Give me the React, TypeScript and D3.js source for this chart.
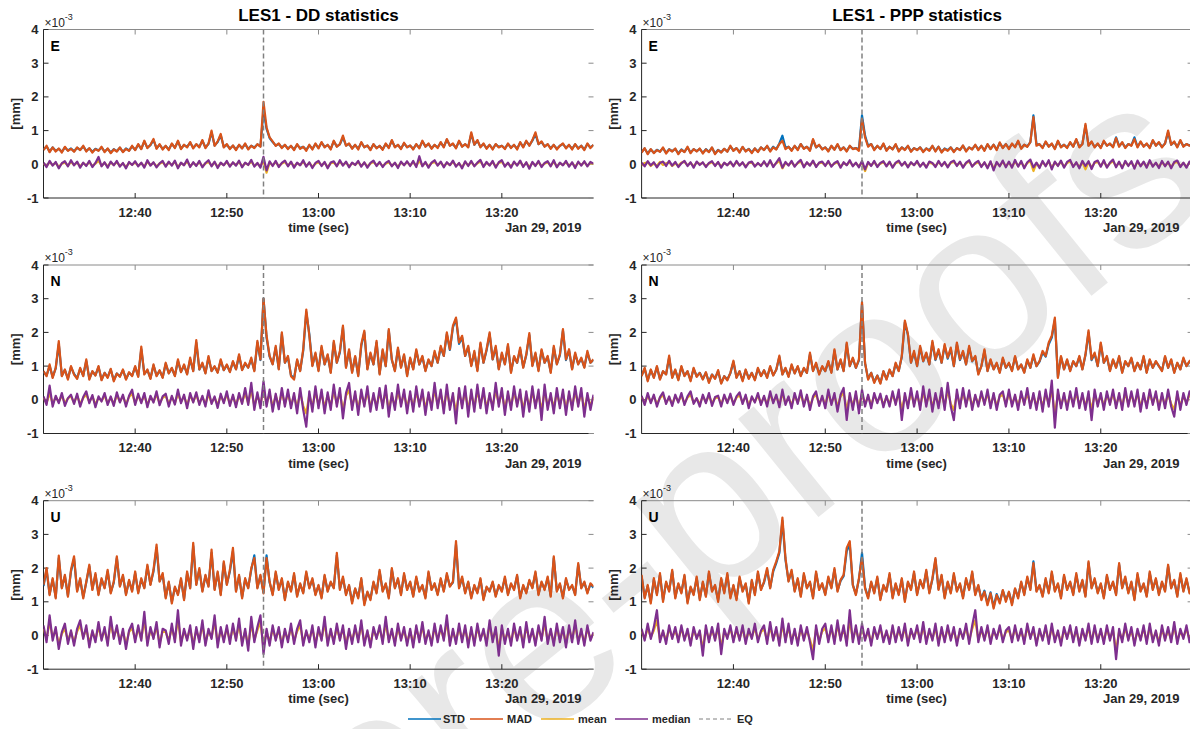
import React from "react";
import * as d3 from "d3";

// ---------------- DATA (values in units of 10^-3 mm) ----------------
// All series: one sample every 20 s from 12:30:00 to 13:30:00 (181 samples)

const titles = ["LES1 - DD statistics", "LES1 - PPP statistics"];
const components = ["E", "N", "U"];
const xTickLabels = ["12:40", "12:50", "13:00", "13:10", "13:20"];
const yTickValues = [-1, 0, 1, 2, 3, 4];
const dateLabel = "Jan 29, 2019";
const xAxisLabel = "time (sec)";
const yAxisLabel = "[mm]";
const eqTimeLabel = "12:54";
const legendLabels = ["STD", "MAD", "mean", "median", "EQ"];

// ---- DD, E ----
const ddE_STD = [
  .44,.53,.38,.5,.4,.46,.37,.5,.41,.47,
  .39,.49,.43,.53,.4,.47,.37,.46,.41,.5,
  .38,.46,.35,.45,.39,.49,.37,.47,.41,.53,
  .43,.58,.46,.68,.49,.57,.72,.48,.58,.46,
  .54,.44,.6,.5,.68,.47,.57,.52,.64,.49,
  .59,.52,.7,.5,.6,.95,.56,.66,.86,.52,
  .58,.47,.55,.44,.57,.48,.6,.46,.55,.5,
  .59,.53,1.6,1.05,.78,.66,.56,.6,.5,.57,
  .47,.54,.44,.58,.48,.52,.43,.56,.46,.6,
  .49,.64,.52,.57,.46,.68,.53,.59,.8,.56,
  .6,.48,.57,.46,.64,.51,.55,.44,.59,.49,
  .54,.45,.6,.5,.7,.52,.57,.47,.62,.51,
  .55,.46,.59,.49,.68,.53,.6,.48,.57,.5,
  .64,.52,.73,.56,.6,.49,.68,.53,.59,.52,
  .9,.58,.7,.52,.6,.48,.57,.46,.59,.52,
  .55,.47,.6,.5,.57,.46,.64,.52,.68,.56,
  .7,.9,.6,.66,.53,.59,.48,.57,.46,.55,
  .6,.49,.57,.46,.59,.48,.55,.44,.6,.5,
  .57
];
const ddE_MAD = [
  .42,.55,.36,.5,.38,.47,.35,.52,.4,.46,
  .37,.5,.42,.55,.38,.48,.35,.45,.4,.52,
  .36,.47,.33,.44,.38,.5,.36,.46,.4,.55,
  .42,.6,.45,.7,.48,.58,.75,.46,.6,.44,
  .55,.42,.62,.48,.7,.45,.58,.5,.66,.47,
  .6,.5,.72,.48,.62,1.0,.55,.68,.9,.5,
  .6,.45,.56,.42,.58,.47,.62,.44,.55,.48,
  .6,.52,1.85,1.1,.8,.68,.55,.62,.48,.58,
  .45,.55,.42,.6,.46,.52,.4,.58,.44,.62,
  .47,.66,.5,.58,.44,.7,.52,.6,.85,.55,
  .62,.46,.58,.44,.66,.5,.56,.42,.6,.47,
  .55,.43,.62,.48,.72,.5,.58,.45,.64,.5,
  .56,.44,.6,.47,.7,.52,.62,.46,.58,.48,
  .66,.5,.75,.55,.62,.47,.7,.52,.6,.5,
  .95,.58,.72,.5,.62,.46,.58,.44,.6,.5,
  .55,.45,.62,.48,.58,.44,.66,.5,.7,.55,
  .72,.95,.6,.68,.52,.6,.46,.58,.44,.55,
  .62,.47,.58,.44,.6,.46,.55,.42,.62,.48,
  .58
];
const ddE_mean = [
  .02,-.05,.06,-.02,.04,-.08,.02,.05,-.04,.07,
  -.02,.05,-.06,.03,-.03,.06,-.05,.02,.1,-.04,
  .04,-.06,.05,-.02,.06,-.04,.02,-.08,.04,-.01,
  .05,-.04,.03,-.06,.07,-.02,.04,-.06,.02,.06,
  -.04,.05,-.02,.07,-.08,.03,-.02,.08,-.05,.04,
  -.03,.06,-.06,.02,.07,-.04,.05,-.07,.03,-.02,
  .06,-.04,.04,-.02,.07,-.06,.03,-.01,.08,-.04,
  .02,-.06,.1,-.25,.05,-.03,.06,-.05,.02,.07,
  -.04,.05,-.06,.03,-.02,.07,-.04,.04,-.07,.02,
  .06,-.03,.04,-.08,.03,.05,-.04,.07,-.02,.05,
  -.06,.03,-.01,.06,-.04,.04,-.06,.02,.07,-.03,
  .04,-.05,.02,.06,-.04,.03,-.07,.05,-.02,.06,
  -.03,.06,-.05,.1,-.04,.04,-.06,.03,.07,-.02,
  .05,-.06,.04,-.02,.07,-.04,.02,-.08,.06,-.03,
  .06,-.04,.03,.08,-.05,.04,-.02,.06,-.06,.04,
  .07,-.04,.03,-.06,.05,-.02,.07,-.05,.04,-.08,
  .04,-.03,.06,-.05,.02,.06,-.04,.07,-.06,.03,
  -.02,.06,-.04,.04,-.07,.05,-.02,.06,-.04,.04,
  .01
];
const ddE_median = [
  .05,-.08,.1,-.04,.07,-.12,.03,.09,-.06,.12,
  -.03,.08,-.1,.05,-.05,.1,-.08,.04,.22,-.06,
  .06,-.1,.08,-.03,.1,-.07,.04,-.12,.07,-.02,
  .09,-.06,.05,-.1,.12,-.04,.06,-.09,.03,.1,
  -.07,.08,-.04,.11,-.12,.05,-.03,.14,-.08,.06,
  -.05,.1,-.09,.04,.12,-.06,.08,-.11,.05,-.03,
  .1,-.07,.06,-.04,.11,-.09,.05,-.02,.13,-.07,
  .04,-.1,.22,-.18,.09,-.05,.1,-.08,.04,.11,
  -.06,.08,-.1,.05,-.03,.12,-.07,.06,-.11,.04,
  .1,-.05,.07,-.12,.05,.09,-.06,.12,-.04,.08,
  -.09,.05,-.02,.1,-.07,.06,-.1,.04,.11,-.05,
  .07,-.08,.04,.1,-.06,.05,-.11,.08,-.03,.09,
  -.05,.1,-.08,.24,-.06,.07,-.1,.05,.12,-.04,
  .08,-.09,.06,-.03,.11,-.07,.04,-.12,.09,-.05,
  .1,-.06,.05,.13,-.08,.07,-.04,.1,-.1,.06,
  .12,-.07,.05,-.1,.08,-.04,.11,-.08,.06,-.13,
  .07,-.05,.1,-.08,.04,.09,-.06,.12,-.09,.05,
  -.03,.1,-.07,.06,-.11,.08,-.04,.09,-.06,.07,
  .02
];

// ---- PPP, E ----
const pppE_STD = [
  .36,.47,.32,.44,.34,.43,.38,.48,.34,.45,
  .39,.46,.32,.44,.37,.5,.35,.45,.39,.46,
  .34,.45,.37,.49,.32,.43,.36,.46,.38,.53,
  .41,.48,.37,.51,.39,.46,.35,.47,.38,.5,
  .43,.54,.4,.52,.45,.62,.85,.5,.52,.42,
  .54,.44,.6,.47,.52,.42,.72,.5,.57,.45,
  .5,.4,.54,.44,.58,.43,.5,.4,.54,.46,
  .48,.45,1.45,.85,.55,.6,.44,.54,.46,.6,
  .42,.52,.45,.58,.4,.5,.44,.54,.39,.48,
  .43,.5,.38,.47,.42,.54,.4,.52,.37,.47,
  .42,.5,.38,.48,.43,.55,.4,.5,.45,.57,
  .44,.54,.42,.59,.46,.58,.44,.63,.49,.6,
  .47,.6,.52,.68,.48,.58,.53,.66,1.45,.6,
  .59,.5,.66,.53,.6,.47,.68,.52,.58,.5,
  .64,.53,.73,.52,.6,1.15,.56,.66,.52,.6,
  .5,.68,.56,.6,.52,.8,.54,.64,.5,.6,
  .56,.8,.52,.66,.54,.6,.5,.7,.56,.64,
  .52,.62,.95,.58,.66,.52,.7,.54,.6,.56,
  .6
];
const pppE_MAD = [
  .35,.48,.3,.45,.33,.42,.37,.5,.32,.44,
  .38,.47,.3,.43,.36,.52,.33,.45,.38,.47,
  .32,.44,.36,.5,.3,.42,.35,.46,.37,.55,
  .4,.48,.35,.52,.38,.45,.33,.47,.36,.5,
  .42,.55,.38,.5,.44,.6,.7,.45,.52,.4,
  .55,.42,.6,.46,.52,.4,.75,.5,.58,.44,
  .5,.38,.55,.43,.6,.42,.5,.38,.55,.45,
  .48,.4,1.35,.8,.52,.6,.42,.55,.45,.62,
  .4,.52,.44,.6,.38,.5,.42,.55,.37,.48,
  .42,.5,.36,.47,.4,.55,.38,.52,.35,.46,
  .4,.5,.36,.48,.42,.56,.38,.5,.44,.58,
  .42,.55,.4,.6,.45,.58,.42,.65,.48,.6,
  .45,.62,.5,.7,.46,.58,.52,.66,1.4,.55,
  .6,.48,.68,.52,.62,.45,.7,.5,.58,.48,
  .66,.52,.75,.5,.6,1.2,.55,.68,.5,.62,
  .48,.7,.55,.62,.5,.78,.52,.66,.48,.6,
  .55,.75,.5,.68,.52,.62,.48,.72,.55,.66,
  .5,.62,1.0,.58,.68,.5,.72,.52,.6,.55,
  .6
];
const pppE_mean = [
  -.03,.04,.06,-.05,.02,-.04,.07,-.02,.03,.06,
  -.05,.02,-.04,.05,.07,-.03,.04,-.06,.05,.01,
  .04,-.05,.02,.06,-.03,.05,-.06,.03,-.02,.05,
  -.04,.06,-.02,.04,-.06,.03,.05,-.04,.02,-.03,
  .06,-.04,.08,-.05,.03,.1,-.12,.04,-.02,.06,
  -.05,.03,.08,-.06,.04,-.02,.07,-.05,.03,.05,
  -.03,.06,-.04,.02,.06,-.07,.04,-.02,.08,-.04,
  .03,-.06,.06,-.2,.04,-.03,.06,-.05,.02,.06,
  -.04,.05,-.07,.03,.07,-.02,.04,-.06,.04,-.02,
  .06,-.05,.03,-.07,.05,.02,-.05,.06,-.03,.04,
  -.06,.04,.07,-.03,.05,-.07,.03,.08,-.05,.02,
  .06,-.05,.04,-.08,.06,-.12,.04,-.04,.07,-.06,
  .05,-.07,.08,-.05,.06,-.08,.04,.09,-.2,.03,
  -.07,.06,-.04,.08,-.1,.05,-.03,.07,-.07,.04,
  .08,-.05,.04,-.08,.06,-.15,.06,-.09,.04,.07,
  -.05,.08,-.07,.03,.09,-.06,.05,-.08,.06,-.03,
  .06,-.09,.07,-.04,.05,-.07,.08,-.05,.03,-.07,
  .06,-.04,.05,-.08,.04,.07,-.05,.03,-.07,.05,
  .01
];
const pppE_median = [
  .05,-.06,.09,-.03,.06,-.09,.04,.08,-.05,.1,
  -.04,.07,-.08,.03,.1,-.05,.06,-.1,.08,-.02,
  .06,-.08,.04,.09,-.05,.07,-.1,.05,-.03,.08,
  -.06,.1,-.04,.06,-.09,.05,.08,-.07,.04,-.05,
  .09,-.06,.12,-.08,.05,.18,-.1,.07,-.04,.1,
  -.07,.05,.13,-.09,.06,-.04,.11,-.08,.05,.08,
  -.05,.1,-.07,.04,.09,-.1,.06,-.03,.12,-.06,
  .05,-.09,.1,-.15,.07,-.05,.1,-.08,.04,.09,
  -.06,.08,-.1,.05,.11,-.04,.07,-.09,.06,-.03,
  .1,-.07,.05,-.1,.08,.04,-.08,.1,-.05,.07,
  -.09,.06,.11,-.05,.08,-.1,.05,.12,-.07,.04,
  .1,-.08,.06,-.12,.09,-.18,.07,-.06,.11,-.09,
  .08,-.1,.13,-.07,.1,-.12,.06,.14,-.09,.05,
  -.11,.1,-.06,.12,-.15,.08,-.05,.11,-.1,.07,
  .13,-.08,.06,-.12,.1,-.05,.09,-.14,.07,.11,
  -.07,.12,-.1,.05,.14,-.09,.08,-.12,.1,-.05,
  .09,-.13,.11,-.06,.08,-.1,.12,-.07,.05,-.11,
  .1,-.06,.08,-.12,.07,.11,-.08,.05,-.1,.08,
  .02
];

// ---- DD, N ----
const ddN_STD = [
  .83,.72,1.0,.68,.93,1.65,.72,.88,.63,.97,
  .77,.64,.92,.72,1.15,.63,.84,.73,.97,.6,
  .8,.67,.9,.58,.78,.7,.88,.62,.8,.72,
  .97,.7,1.5,.77,.88,.64,1.02,.72,.86,.67,
  1.07,.79,.93,.72,1.15,.83,1.02,.77,1.2,.86,
  1.7,.9,1.07,.8,1.25,.86,.98,.82,1.16,.88,
  1.03,.84,1.12,.91,1.3,.89,1.07,.96,1.2,.87,
  1.7,1.18,3.0,1.85,1.28,1.06,1.55,.92,1.95,1.1,
  1.26,.73,.64,1.17,.87,1.45,2.6,1.95,1.02,1.36,
  .88,1.55,1.05,1.32,.82,1.7,1.1,1.4,2.15,.97,
  1.45,.83,1.27,.73,1.6,2.0,.92,1.36,1.05,1.7,
  .78,1.46,1.0,2.05,1.18,.87,1.5,.97,1.32,.73,
  1.22,.92,1.45,1.05,1.27,.87,1.18,1.0,1.4,1.1,
  1.55,1.3,1.95,1.48,2.15,2.4,1.66,1.85,1.3,1.56,
  1.02,1.4,.88,1.65,1.1,1.46,1.95,1.2,1.55,.92,
  1.36,1.06,1.6,.83,1.27,1.1,1.5,.97,1.32,1.92,
  1.02,1.36,.88,1.46,1.1,1.27,.83,1.55,1.06,1.32,
  2.05,1.18,1.46,.92,1.36,1.06,1.22,.97,1.4,1.1,
  1.18
];
const ddN_MAD = [
  .85,.7,1.05,.65,.95,1.74,.7,.9,.6,1.0,
  .75,.62,.95,.7,1.2,.6,.85,.72,1.0,.58,
  .8,.65,.92,.55,.78,.68,.9,.6,.82,.7,
  1.0,.68,1.58,.75,.9,.62,1.05,.7,.88,.65,
  1.1,.78,.95,.7,1.2,.82,1.05,.75,1.25,.85,
  1.77,.9,1.1,.78,1.3,.85,1.0,.8,1.2,.88,
  1.05,.82,1.15,.9,1.35,.88,1.1,.95,1.25,.85,
  1.75,1.2,3.0,1.9,1.3,1.05,1.6,.9,2.0,1.1,
  1.3,.7,.6,1.2,.85,1.5,2.68,1.9,1.0,1.4,
  .85,1.6,1.05,1.35,.8,1.75,1.1,1.45,2.2,.95,
  1.5,.8,1.3,.7,1.65,2.05,.9,1.4,1.05,1.75,
  .75,1.5,1.0,2.1,1.2,.85,1.55,.95,1.35,.7,
  1.25,.9,1.5,1.05,1.3,.85,1.2,1.0,1.45,1.1,
  1.6,1.3,2.0,1.5,2.2,2.44,1.7,1.9,1.3,1.6,
  1.0,1.45,.85,1.7,1.1,1.5,2.0,1.2,1.6,.9,
  1.4,1.05,1.65,.8,1.3,1.1,1.55,.95,1.35,1.98,
  1.0,1.4,.85,1.5,1.1,1.3,.8,1.6,1.05,1.35,
  2.1,1.2,1.5,.9,1.4,1.05,1.25,.95,1.45,1.1,
  1.2
];
const ddN_mean = [
  .06,-.1,.2,-.12,.08,-.06,.12,-.1,.04,.1,
  -.08,.12,-.12,.05,.15,-.06,.1,-.14,.06,-.03,
  .12,-.1,.06,-.12,.14,-.05,.1,-.12,.08,.18,
  -.1,.12,-.06,.12,-.14,.08,-.05,.15,-.1,.06,
  .12,-.12,.08,-.1,.18,-.06,.1,-.15,.12,-.05,
  .14,-.1,.08,-.12,.16,-.08,.06,-.15,.12,-.06,
  .15,-.12,.1,-.14,.12,-.08,.2,-.1,.3,-.18,
  .14,-.15,.3,-.12,.18,-.2,.12,-.16,.2,-.12,
  .18,-.15,.12,-.22,.2,-.18,-.4,.15,-.2,.22,
  -.15,.18,-.22,.14,-.18,.25,-.12,.2,-.3,.12,
  .28,-.18,.15,-.25,.18,-.12,.22,-.2,.12,-.18,
  .2,-.15,.24,-.28,.12,-.18,.25,-.12,.18,-.22,
  .15,-.2,.22,-.12,.18,-.25,.14,-.18,.28,-.15,
  .18,-.22,.25,-.18,.12,-.35,.2,-.15,.22,-.28,
  .18,-.2,.25,-.15,.2,-.22,.12,-.18,.28,-.12,
  .2,-.25,.15,-.18,.22,-.12,.18,-.28,.15,-.2,
  .22,-.15,.18,-.32,.25,-.18,.12,-.22,.2,-.15,
  .18,-.25,.15,-.18,.22,-.12,.2,-.28,.12,-.18,
  .08
];
const ddN_median = [
  .1,-.15,.42,-.2,.12,-.1,.2,-.18,.05,.15,
  -.12,.18,-.2,.08,.25,-.1,.14,-.22,.1,-.05,
  .2,-.15,.1,-.18,.22,-.08,.15,-.2,.12,.3,
  -.15,.18,-.1,.2,-.22,.12,-.08,.25,-.16,.1,
  .18,-.2,.12,-.14,.3,-.1,.15,-.25,.2,-.08,
  .22,-.15,.12,-.2,.28,-.12,.1,-.24,.18,-.1,
  .25,-.18,.15,-.22,.2,-.12,.35,-.15,.5,-.3,
  .22,-.25,.55,-.2,.3,-.35,.18,-.28,.35,-.2,
  .3,-.25,.2,-.4,.35,-.3,-.8,.25,-.35,.4,
  -.25,.3,-.4,.22,-.3,.45,-.2,.35,-.55,.2,
  .5,-.3,.25,-.45,.3,-.2,.4,-.35,.2,-.3,
  .35,-.25,.42,-.5,.2,-.3,.45,-.2,.3,-.4,
  .25,-.35,.4,-.2,.3,-.45,.22,-.3,.5,-.25,
  .3,-.4,.45,-.3,.2,-.7,.35,-.25,.4,-.5,
  .3,-.35,.45,-.25,.35,-.4,.2,-.3,.5,-.2,
  .35,-.45,.25,-.3,.4,-.2,.3,-.5,.25,-.35,
  .4,-.25,.3,-.6,.45,-.3,.2,-.4,.35,-.25,
  .3,-.45,.25,-.3,.4,-.2,.35,-.5,.2,-.3,
  .15
];

// ---- PPP, N ----
const pppN_STD = [
  .72,.92,.58,.88,.67,.97,.62,.84,.76,1.25,
  .67,.88,.6,.97,.72,.84,.58,.92,.7,.8,
  .62,.8,.53,.75,.64,.85,.5,.7,.6,.79,
  1.12,.67,.84,.58,.88,.64,.8,.6,.92,.71,
  .87,.67,.97,.73,.89,1.27,.76,.93,.7,1.02,
  .79,.98,.72,.93,.8,1.35,.86,1.07,.77,.98,
  .85,1.12,.82,1.45,.9,1.17,.86,1.65,1.0,1.22,
  .95,1.17,2.85,1.08,.62,.8,.53,.72,.5,.84,
  .62,.88,.71,1.07,.86,1.27,2.3,1.92,1.1,1.4,
  1.0,1.55,1.14,1.37,1.05,1.7,1.18,1.46,1.1,1.6,
  1.22,1.5,1.0,1.65,1.18,1.42,1.05,1.55,1.14,1.28,
  .78,1.0,1.45,.86,1.17,.91,1.08,.82,1.22,.95,
  1.08,.87,1.27,.91,1.04,.82,1.17,.95,1.3,1.0,
  1.13,1.4,1.28,1.65,1.85,2.38,.68,1.27,.91,1.17,
  .87,1.13,1.0,1.27,.91,1.32,2.0,1.18,1.36,1.0,
  1.65,1.1,1.27,.87,1.18,.96,1.27,.82,1.13,1.0,
  1.22,.87,1.09,.91,1.27,.82,1.18,.95,1.13,1.0,
  .87,1.27,.95,1.18,.82,1.09,.91,1.22,1.0,1.13,
  1.18
];
const pppN_MAD = [
  .7,.95,.55,.9,.65,1.0,.6,.85,.75,1.31,
  .65,.9,.58,1.0,.7,.85,.55,.95,.68,.8,
  .6,.82,.5,.75,.62,.88,.48,.7,.58,.8,
  1.16,.65,.85,.55,.9,.62,.8,.58,.95,.7,
  .88,.65,1.0,.72,.9,1.31,.75,.95,.68,1.05,
  .78,1.0,.7,.95,.8,1.4,.85,1.1,.75,1.0,
  .85,1.15,.8,1.5,.9,1.2,.85,1.7,1.0,1.25,
  .95,1.2,2.9,1.1,.6,.8,.5,.72,.48,.85,
  .6,.9,.7,1.1,.85,1.3,2.35,1.95,1.1,1.45,
  1.0,1.6,1.15,1.4,1.05,1.75,1.2,1.5,1.1,1.65,
  1.25,1.55,1.0,1.7,1.2,1.45,1.05,1.6,1.15,1.3,
  .75,1.0,1.5,.85,1.2,.9,1.1,.8,1.25,.95,
  1.1,.85,1.3,.9,1.05,.8,1.2,.95,1.35,1.0,
  1.15,1.45,1.3,1.7,1.9,2.44,.65,1.3,.9,1.2,
  .85,1.15,1.0,1.3,.9,1.35,2.06,1.2,1.4,1.0,
  1.7,1.1,1.3,.85,1.2,.95,1.3,.8,1.15,1.0,
  1.25,.85,1.1,.9,1.3,.8,1.2,.95,1.15,1.0,
  .85,1.3,.95,1.2,.8,1.1,.9,1.25,1.0,1.15,
  1.2
];
const pppN_mean = [
  .08,-.1,.12,-.06,.1,-.12,.05,.14,-.08,.06,
  -.12,.1,-.05,.12,-.1,.06,.15,-.08,.03,-.12,
  .1,-.06,.12,-.1,.05,.08,-.12,.1,-.06,.12,
  -.1,.06,.14,-.08,.1,-.15,.06,-.05,.12,-.1,
  .08,-.12,.15,-.06,.1,-.14,.18,-.1,.06,-.15,
  .12,-.08,.16,-.12,.1,-.18,.06,.15,-.12,.08,
  -.15,.18,-.1,.12,-.2,.1,.2,-.3,.12,-.18,
  .15,-.22,.18,-.12,.1,-.15,.12,-.06,.1,-.14,
  .08,-.12,.15,-.1,.18,-.3,.12,-.15,.2,-.12,
  .15,-.18,.22,-.12,.18,-.2,.12,-.15,.2,-.18,
  .28,-.12,-.3,.18,-.15,.2,-.12,.16,-.18,.1,
  -.12,.15,-.1,.18,-.15,.12,-.18,.1,.15,-.12,
  .18,-.12,.1,-.18,.15,-.1,.2,-.15,.12,-.18,
  .15,-.2,.18,-.12,.3,-.45,.18,-.15,.12,-.18,
  .15,-.12,.2,-.15,.12,-.18,.15,-.3,.18,-.12,
  .12,-.18,.15,-.1,.18,-.15,.12,-.18,.2,-.12,
  .15,-.12,.18,-.2,.12,-.15,.18,-.1,.15,-.18,
  .12,-.15,.18,-.12,-.28,.15,-.18,.12,-.1,.15,
  .06
];
const pppN_median = [
  .12,-.15,.2,-.1,.15,-.2,.08,.22,-.12,.1,
  -.18,.15,-.08,.2,-.15,.1,.25,-.12,.05,-.2,
  .15,-.1,.2,-.18,.08,.12,-.2,.15,-.1,.18,
  -.15,.1,.22,-.12,.15,-.25,.1,-.08,.2,-.15,
  .12,-.2,.25,-.1,.15,-.22,.3,-.15,.1,-.25,
  .2,-.12,.28,-.2,.15,-.3,.1,.25,-.18,.12,
  -.25,.3,-.15,.2,-.35,.15,.35,-.6,.2,-.3,
  .25,-.4,.3,-.2,.15,-.25,.2,-.1,.18,-.22,
  .12,-.2,.25,-.15,.3,-.6,.2,-.25,.35,-.2,
  .25,-.3,.4,-.2,.3,-.35,.2,-.25,.35,-.3,
  .5,-.2,-.6,.3,-.25,.35,-.2,.28,-.3,.15,
  -.2,.25,-.15,.3,-.25,.2,-.3,.15,.25,-.2,
  .3,-.2,.15,-.3,.25,-.15,.35,-.25,.2,-.3,
  .25,-.35,.3,-.2,.57,-.83,.3,-.25,.2,-.3,
  .25,-.2,.35,-.25,.2,-.3,.25,-.6,.3,-.2,
  .2,-.3,.25,-.15,.3,-.25,.2,-.3,.35,-.2,
  .25,-.2,.3,-.35,.2,-.25,.3,-.15,.25,-.3,
  .2,-.25,.3,-.2,-.5,.25,-.3,.2,-.15,.25,
  .1
];

// ---- DD, U ----
const ddU_STD = [
  1.47,1.95,1.23,1.66,1.14,2.3,1.42,1.76,1.18,1.9,
  2.28,1.33,1.66,1.14,1.57,2.05,1.38,1.8,1.23,1.66,
  1.42,1.9,1.28,1.57,2.3,1.47,1.76,1.23,1.62,1.33,
  1.85,1.28,1.66,1.42,2.05,1.52,1.9,2.6,1.62,1.8,
  1.14,1.57,1.0,1.42,1.23,1.66,1.09,1.85,1.42,2.65,
  1.52,1.95,1.33,1.76,1.47,2.45,1.38,1.85,1.23,2.15,
  1.52,1.9,2.5,1.33,1.76,1.14,1.66,1.42,1.95,2.38,
  1.42,1.76,1.28,2.38,1.57,1.23,1.85,1.38,1.66,1.09,
  1.57,1.33,1.8,1.18,1.52,1.28,1.85,1.42,1.66,1.23,
  1.47,1.14,1.76,1.33,1.57,1.42,2.38,1.38,1.7,1.23,
  1.47,1.0,1.38,1.14,1.66,.95,1.28,1.09,1.57,1.28,
  1.9,1.33,1.52,1.14,1.95,1.42,1.66,1.23,1.8,1.38,
  1.57,1.18,1.7,1.33,1.47,1.14,1.85,1.38,1.52,1.23,
  1.66,1.33,1.8,1.47,1.57,2.7,1.42,1.7,1.28,1.57,
  1.14,1.47,1.28,1.66,1.09,1.42,1.33,1.57,1.18,1.47,
  1.33,1.7,1.23,1.52,1.38,1.76,1.14,1.47,1.28,1.62,
  1.42,1.85,1.23,1.57,1.38,1.7,1.18,2.3,1.33,1.52,
  1.14,1.66,1.38,1.47,1.23,2.1,1.42,1.57,1.28,1.52,
  1.42
];
const ddU_MAD = [
  1.5,2.0,1.2,1.7,1.1,2.37,1.4,1.8,1.15,1.95,
  2.35,1.3,1.7,1.1,1.6,2.1,1.35,1.85,1.2,1.7,
  1.4,1.95,1.25,1.6,2.35,1.45,1.8,1.2,1.65,1.3,
  1.9,1.25,1.7,1.4,2.1,1.5,1.95,2.7,1.6,1.85,
  1.1,1.6,.95,1.45,1.2,1.7,1.05,1.9,1.4,2.75,
  1.5,2.0,1.3,1.8,1.45,2.55,1.35,1.9,1.2,2.2,
  1.5,1.95,2.6,1.3,1.8,1.1,1.7,1.4,2.0,2.3,
  1.4,1.8,1.25,2.3,1.6,1.2,1.9,1.35,1.7,1.05,
  1.6,1.3,1.85,1.15,1.55,1.25,1.9,1.4,1.7,1.2,
  1.5,1.1,1.8,1.3,1.6,1.4,2.45,1.35,1.75,1.2,
  1.5,.95,1.4,1.1,1.7,.9,1.3,1.05,1.6,1.25,
  1.95,1.3,1.55,1.1,2.0,1.4,1.7,1.2,1.85,1.35,
  1.6,1.15,1.75,1.3,1.5,1.1,1.9,1.35,1.55,1.2,
  1.7,1.3,1.85,1.45,1.6,2.8,1.4,1.75,1.25,1.6,
  1.1,1.5,1.25,1.7,1.05,1.45,1.3,1.6,1.15,1.5,
  1.3,1.75,1.2,1.55,1.35,1.8,1.1,1.5,1.25,1.65,
  1.4,1.9,1.2,1.6,1.35,1.75,1.15,2.35,1.3,1.55,
  1.1,1.7,1.35,1.5,1.2,2.15,1.4,1.6,1.25,1.55,
  1.45
];
const ddU_mean = [
  .2,-.1,.4,-.05,.15,-.25,.05,.2,-.15,.1,
  -.2,.12,.3,-.05,.2,-.22,.1,-.12,.25,-.1,
  .15,-.2,.35,-.05,.2,-.15,.12,-.25,.1,.22,
  -.12,.2,-.1,.45,-.2,.15,-.05,.25,-.22,.12,
  .1,-.15,.22,-.12,.48,-.2,.12,-.1,.2,-.25,
  .15,-.12,.3,-.2,.12,-.05,.4,-.22,.15,-.12,
  .2,-.15,.22,-.1,.32,-.2,.12,-.3,.35,-.12,
  .15,.4,-.35,.12,-.2,.2,-.1,.15,-.22,.12,
  -.12,.22,-.15,.12,.3,-.2,.1,-.12,.2,-.22,
  .15,-.1,.35,-.2,.12,-.15,.22,-.1,.2,-.25,
  .12,-.15,.2,-.12,.3,-.2,.1,-.22,.15,-.05,
  .2,-.15,.35,-.12,.12,-.2,.22,-.1,.15,-.2,
  .12,-.22,.2,-.12,.25,-.15,.1,-.2,.22,-.12,
  .2,-.1,.4,-.2,.12,-.15,.22,-.12,.2,-.22,
  .15,-.2,.22,-.1,.12,-.2,.3,-.12,.15,-.4,
  .2,-.15,.12,-.2,.22,-.1,.15,-.22,.25,-.12,
  .12,-.2,.2,-.1,.35,-.15,.12,-.2,.22,-.12,
  .15,-.22,.2,-.12,.3,-.15,.12,-.2,.2,-.1,
  .06
];
const ddU_median = [
  .3,-.2,.6,-.15,.25,-.4,.1,.35,-.25,.15,
  -.3,.2,.45,-.1,.3,-.35,.15,-.2,.4,-.15,
  .25,-.3,.55,-.1,.3,-.25,.2,-.4,.15,.35,
  -.2,.3,-.15,.7,-.3,.25,-.1,.4,-.35,.2,
  .15,-.25,.35,-.2,.75,-.3,.2,-.15,.3,-.4,
  .25,-.2,.45,-.3,.2,-.1,.6,-.35,.25,-.2,
  .3,-.25,.35,-.15,.5,-.3,.2,-.45,.55,-.2,
  .25,.6,-.55,.2,-.3,.3,-.15,.25,-.35,.2,
  -.2,.35,-.25,.2,.45,-.3,.15,-.2,.3,-.35,
  .25,-.15,.55,-.3,.2,-.25,.35,-.15,.3,-.4,
  .2,-.25,.3,-.2,.45,-.3,.15,-.35,.25,-.1,
  .3,-.25,.55,-.2,.2,-.3,.35,-.15,.25,-.3,
  .2,-.35,.3,-.2,.4,-.25,.15,-.3,.35,-.2,
  .3,-.15,.6,-.3,.2,-.25,.35,-.2,.3,-.35,
  .25,-.3,.35,-.15,.2,-.3,.45,-.2,.25,-.6,
  .3,-.25,.2,-.3,.35,-.15,.25,-.35,.4,-.2,
  .2,-.3,.3,-.15,.55,-.25,.2,-.3,.35,-.2,
  .25,-.35,.3,-.2,.45,-.25,.2,-.3,.3,-.15,
  .1
];

// ---- PPP, U ----
const pppU_STD = [
  1.75,1.14,1.47,1.0,1.66,1.23,1.8,1.05,1.57,1.33,
  1.9,1.14,1.52,1.28,1.76,1.0,1.42,1.23,1.7,1.09,
  1.57,1.18,1.85,1.33,1.47,1.05,1.66,1.28,1.8,1.14,
  1.47,1.09,1.7,1.33,1.52,1.0,1.62,1.23,1.85,1.38,
  1.57,1.95,1.42,1.9,2.15,2.45,3.4,2.25,1.62,1.9,
  1.33,1.66,1.18,1.8,1.42,1.57,1.14,1.85,1.38,1.52,
  1.23,1.7,1.42,1.95,1.33,1.62,1.76,2.5,2.7,1.5,
  1.23,1.66,2.45,1.42,1.14,1.57,1.28,1.7,1.09,1.47,
  1.33,1.8,1.14,1.52,1.23,1.66,1.05,1.57,1.38,1.85,
  1.23,1.62,1.42,1.9,1.28,1.66,2.25,1.38,1.76,1.14,
  1.57,1.28,1.8,1.33,1.52,1.14,1.66,1.38,1.85,1.23,
  1.47,1.09,1.33,.95,1.28,.85,1.23,1.0,1.33,1.05,
  1.28,.95,1.38,1.14,1.57,1.23,1.7,1.38,2.2,1.33,
  1.47,1.18,1.66,1.28,1.85,1.33,1.52,1.14,1.76,1.38,
  1.57,1.23,1.8,1.33,1.62,1.18,2.15,1.42,1.66,1.28,
  1.52,1.14,1.76,1.38,1.57,1.23,2.1,1.42,1.7,1.28,
  1.57,1.09,1.8,1.33,1.52,1.18,1.85,1.38,1.66,1.23,
  1.57,1.33,2.05,1.42,1.62,1.18,1.8,1.33,1.66,1.28,
  1.47
];
const pppU_MAD = [
  1.8,1.1,1.5,.95,1.7,1.2,1.85,1.0,1.6,1.3,
  1.95,1.1,1.55,1.25,1.8,.95,1.45,1.2,1.75,1.05,
  1.6,1.15,1.9,1.3,1.5,1.0,1.7,1.25,1.85,1.1,
  1.5,1.05,1.75,1.3,1.55,.95,1.65,1.2,1.9,1.35,
  1.6,2.0,1.4,1.95,2.2,2.5,3.5,2.3,1.6,1.95,
  1.3,1.7,1.15,1.85,1.4,1.6,1.1,1.9,1.35,1.55,
  1.2,1.75,1.4,2.0,1.3,1.65,1.8,2.6,2.8,1.5,
  1.2,1.7,2.3,1.4,1.1,1.6,1.25,1.75,1.05,1.5,
  1.3,1.85,1.1,1.55,1.2,1.7,1.0,1.6,1.35,1.9,
  1.2,1.65,1.4,1.95,1.25,1.7,2.3,1.35,1.8,1.1,
  1.6,1.25,1.85,1.3,1.55,1.1,1.7,1.35,1.9,1.2,
  1.5,1.05,1.3,.9,1.25,.8,1.2,.95,1.35,1.0,
  1.3,.9,1.4,1.1,1.6,1.2,1.75,1.35,2.15,1.3,
  1.5,1.15,1.7,1.25,1.9,1.3,1.55,1.1,1.8,1.35,
  1.6,1.2,1.85,1.3,1.65,1.15,2.2,1.4,1.7,1.25,
  1.55,1.1,1.8,1.35,1.6,1.2,2.15,1.4,1.75,1.25,
  1.6,1.05,1.85,1.3,1.55,1.15,1.9,1.35,1.7,1.2,
  1.6,1.3,2.1,1.4,1.65,1.15,1.85,1.3,1.7,1.25,
  1.5
];
const pppU_mean = [
  .12,-.1,.22,-.05,.15,.45,-.12,.1,-.15,.2,
  -.05,.15,-.12,.2,-.1,.12,-.2,.15,-.05,.1,
  -.4,.2,-.12,.15,-.1,.22,-.35,.12,-.05,.2,
  -.12,.15,-.1,.2,-.15,.12,-.05,.22,-.12,.1,
  .2,-.15,.25,-.1,.15,-.2,.3,-.12,.22,-.15,
  .12,-.2,.2,-.1,.15,-.12,-.45,.2,-.15,.12,
  .22,-.12,.2,-.15,.3,-.1,.2,-.2,.45,-.12,
  .2,-.15,.22,-.1,.12,-.2,.15,-.05,.2,-.12,
  .1,-.15,.2,-.12,.15,-.1,.22,-.2,.12,-.05,
  .2,-.12,.25,-.15,.12,-.1,.22,-.2,.15,-.12,
  .2,-.1,.15,-.2,.12,-.05,.22,-.15,.2,.45,
  -.12,.15,-.1,.2,-.15,.12,-.05,.2,-.12,.1,
  .15,-.12,.2,-.1,.12,-.15,.22,-.05,.15,-.2,
  .12,-.1,.2,-.15,.22,-.12,.1,-.2,.15,-.05,
  .2,-.12,.15,-.2,.12,-.1,.22,-.15,.2,-.12,
  .12,-.15,.2,-.1,.15,-.45,.12,-.12,.22,-.1,
  .15,-.2,.12,-.1,.2,-.15,.22,-.12,.1,-.2,
  .2,-.1,.15,-.12,.25,-.15,.12,-.05,.2,-.12,
  .1
];
const pppU_median = [
  .2,-.15,.35,-.1,.25,.75,-.2,.15,-.25,.3,
  -.1,.25,-.2,.3,-.15,.2,-.3,.25,-.1,.15,
  -.6,.3,-.2,.25,-.15,.35,-.55,.2,-.1,.3,
  -.2,.25,-.15,.3,-.25,.2,-.1,.35,-.2,.15,
  .3,-.25,.4,-.15,.25,-.3,.5,-.2,.35,-.25,
  .2,-.3,.3,-.15,.25,-.2,-.7,.3,-.25,.2,
  .35,-.2,.3,-.25,.45,-.15,.3,-.3,.75,-.2,
  .3,-.25,.35,-.15,.2,-.3,.25,-.1,.3,-.2,
  .15,-.25,.3,-.2,.25,-.15,.35,-.3,.2,-.1,
  .3,-.2,.4,-.25,.2,-.15,.35,-.3,.25,-.2,
  .3,-.15,.25,-.3,.2,-.1,.35,-.25,.3,.75,
  -.2,.25,-.15,.3,-.25,.2,-.1,.3,-.2,.15,
  .25,-.2,.3,-.15,.2,-.25,.35,-.1,.25,-.3,
  .2,-.15,.3,-.25,.35,-.2,.15,-.3,.25,-.1,
  .3,-.2,.25,-.3,.2,-.15,.35,-.25,.3,-.2,
  .2,-.25,.3,-.15,.25,-.7,.2,-.2,.35,-.15,
  .25,-.3,.2,-.15,.3,-.25,.35,-.2,.15,-.3,
  .3,-.15,.25,-.2,.4,-.25,.2,-.1,.3,-.2,
  .15
];

// ---------------- LAYOUT / STYLE ----------------
const W = 1190;
const H = 729;
const FONT = "'Liberation Sans', Arial, Helvetica, sans-serif";
const AX = "#262626";
const C_STD = "#0072BD";
const C_MAD = "#D95319";
const C_MEAN = "#EDB120";
const C_MED = "#7E2F8E";
const C_EQ = "#808080";

const parseT = d3.timeParse("%Y-%m-%d %H:%M");
const day = "2019-01-29";
const tStart = parseT(`${day} 12:30`) as Date;
const tEnd = parseT(`${day} 13:30`) as Date;
const tEq = parseT(`${day} ${eqTimeLabel}`) as Date;
const xTicks = xTickLabels.map((l) => parseT(`${day} ${l}`) as Date);
const STEP_SEC = 20;

const colX = [43.5, 641.6];
const colW = [550, 551];
const rowY = [29.5, 265, 500.7];
const PH = 168.5;

type Series = { std: number[]; mad: number[]; mean: number[]; median: number[] };
const grid: Series[][] = [
  [
    { std: ddE_STD, mad: ddE_MAD, mean: ddE_mean, median: ddE_median },
    { std: pppE_STD, mad: pppE_MAD, mean: pppE_mean, median: pppE_median },
  ],
  [
    { std: ddN_STD, mad: ddN_MAD, mean: ddN_mean, median: ddN_median },
    { std: pppN_STD, mad: pppN_MAD, mean: pppN_mean, median: pppN_median },
  ],
  [
    { std: ddU_STD, mad: ddU_MAD, mean: ddU_mean, median: ddU_median },
    { std: pppU_STD, mad: pppU_MAD, mean: pppU_mean, median: pppU_median },
  ],
];

function Panel({ row, col, s }: { row: number; col: number; s: Series }) {
  const x0 = colX[col];
  const w = colW[col];
  const y0 = rowY[row];
  const x = d3.scaleTime().domain([tStart, tEnd]).range([x0, x0 + w]);
  const y = d3.scaleLinear().domain([-1, 4]).range([y0 + PH, y0]);
  const line = d3
    .line<number>()
    .x((_, i) => x(d3.timeSecond.offset(tStart, i * STEP_SEC)))
    .y((d) => y(d));
  const id = `clip-${row}-${col}`;
  const fmt = d3.timeFormat("%H:%M");
  const yb = y0 + PH;
  const sw = 2.2;
  return (
    <g>
      <clipPath id={id}>
        <rect x={x0} y={y0} width={w} height={PH} />
      </clipPath>
      <line x1={x0} x2={x0 + w} y1={y0} y2={y0} stroke="#8a8a8a" strokeWidth={1} />
      <line x1={x0} x2={x0 + w} y1={yb} y2={yb} stroke={AX} strokeWidth={1} />
      <line x1={x0} x2={x0} y1={y0} y2={yb} stroke={AX} strokeWidth={1} />
      {yTickValues.map((v) => (
        <g key={`yt${v}`}>
          <line x1={x0} x2={x0 + 5} y1={y(v)} y2={y(v)} stroke={AX} />
          <line x1={x0 + w - 5} x2={x0 + w} y1={y(v)} y2={y(v)} stroke="#8a8a8a" />
          <text
            x={x0 - 5}
            y={y(v)}
            dy="0.35em"
            textAnchor="end"
            fontFamily={FONT}
            fontWeight="bold"
            fontSize={13}
            fill={AX}
          >
            {v}
          </text>
        </g>
      ))}
      {xTicks.map((t, i) => (
        <g key={`xt${i}`}>
          <line x1={x(t)} x2={x(t)} y1={yb} y2={yb - 5} stroke={AX} />
          <line x1={x(t)} x2={x(t)} y1={y0} y2={y0 + 5} stroke="#8a8a8a" />
          <text
            x={x(t)}
            y={yb + 18.5}
            textAnchor="middle"
            fontFamily={FONT}
            fontWeight="bold"
            fontSize={13}
            fill={AX}
          >
            {fmt(t)}
          </text>
        </g>
      ))}
      <text x={x0 + 1} y={y0 - 3} fontFamily={FONT} fontSize={12} fill={AX}>
        ×10
        <tspan dy={-7} fontSize={9}>
          -3
        </tspan>
      </text>
      <text
        transform={`translate(${x0 - 24},${y0 + PH / 2}) rotate(-90)`}
        textAnchor="middle"
        fontFamily={FONT}
        fontWeight="bold"
        fontSize={13}
        fill={AX}
      >
        {yAxisLabel}
      </text>
      <text
        x={x0 + 275}
        y={yb + 34}
        textAnchor="middle"
        fontFamily={FONT}
        fontWeight="bold"
        fontSize={13}
        fill={AX}
      >
        {xAxisLabel}
      </text>
      <text
        x={x0 + 538}
        y={yb + 34}
        textAnchor="end"
        fontFamily={FONT}
        fontWeight="bold"
        fontSize={13}
        fill={AX}
      >
        {dateLabel}
      </text>
      <g clipPath={`url(#${id})`}>
        <path d={line(s.std) || ""} fill="none" stroke={C_STD} strokeWidth={sw} strokeLinejoin="round" />
        <path d={line(s.mad) || ""} fill="none" stroke={C_MAD} strokeWidth={sw} strokeLinejoin="round" />
        <path d={line(s.mean) || ""} fill="none" stroke={C_MEAN} strokeWidth={sw} strokeLinejoin="round" />
        <path d={line(s.median) || ""} fill="none" stroke={C_MED} strokeWidth={sw} strokeLinejoin="round" />
        <line
          x1={x(tEq)}
          x2={x(tEq)}
          y1={y0}
          y2={yb}
          stroke={C_EQ}
          strokeWidth={1.5}
          strokeDasharray="5,3"
        />
      </g>
      <text x={x0 + 7} y={y0 + 21} fontFamily={FONT} fontWeight="bold" fontSize={14} fill="#000">
        {components[row]}
      </text>
    </g>
  );
}

export default function App() {
  const legendItems = [
    { label: legendLabels[0], color: C_STD, dash: undefined, lx: 408, tx: 443 },
    { label: legendLabels[1], color: C_MAD, dash: undefined, lx: 470, tx: 507 },
    { label: legendLabels[2], color: C_MEAN, dash: undefined, lx: 541, tx: 578 },
    { label: legendLabels[3], color: C_MED, dash: undefined, lx: 615, tx: 652 },
    { label: legendLabels[4], color: C_EQ, dash: "4,3", lx: 699, tx: 737 },
  ];
  return (
    <svg width={W} height={H} style={{ position: "absolute", left: 0, top: 0, background: "#fff" }}>
      <rect x={0} y={0} width={W} height={H} fill="#fff" />
      <text
        transform="translate(370,880) rotate(-39)"
        fontFamily={FONT}
        fontSize={240}
        fill="#e8e8e8"
      >
        pre-proofs
      </text>
      {titles.map((t, c) => (
        <text
          key={t}
          x={colX[c] + colW[c] / 2}
          y={21}
          textAnchor="middle"
          fontFamily={FONT}
          fontWeight="bold"
          fontSize={17}
          fill="#000"
        >
          {t}
        </text>
      ))}
      {grid.map((r, ri) => r.map((s, ci) => <Panel key={`${ri}-${ci}`} row={ri} col={ci} s={s} />))}
      {legendItems.map((it) => (
        <g key={it.label}>
          <line
            x1={it.lx}
            x2={it.lx + 33}
            y1={719}
            y2={719}
            stroke={it.color}
            strokeWidth={it.dash ? 1 : 1.5}
            strokeDasharray={it.dash}
          />
          <text x={it.tx} y={723} fontFamily={FONT} fontWeight="bold" fontSize={11} fill={AX}>
            {it.label}
          </text>
        </g>
      ))}
    </svg>
  );
}
